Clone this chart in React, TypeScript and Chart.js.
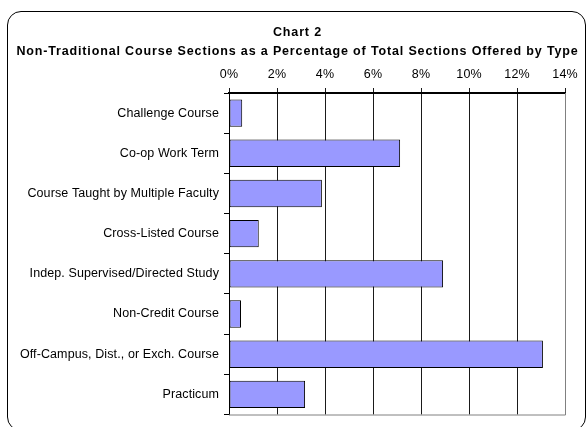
import React, { useEffect, useRef } from "react";
import { Chart, registerables } from "chart.js";

Chart.register(...registerables);

const titleLines = [
  "Chart 2",
  "Non-Traditional Course Sections as a Percentage of Total Sections Offered by Type",
];

const categories = [
  "Challenge Course",
  "Co-op Work Term",
  "Course Taught by Multiple Faculty",
  "Cross-Listed Course",
  "Indep. Supervised/Directed Study",
  "Non-Credit Course",
  "Off-Campus, Dist., or Exch. Course",
  "Practicum",
];

const percentValues = [0.55, 7.13, 3.87, 1.24, 8.92, 0.5, 13.08, 3.17];

const axisMin = 0;
const axisMax = 14;
const axisStep = 2;

const FONT = "'Liberation Sans', Arial, sans-serif";

const titlePlugin = {
  id: "customTitle",
  afterDraw(chart: any) {
    const ctx = chart.ctx;
    ctx.save();
    ctx.fillStyle = "#000";
    ctx.font = `bold 12.5px ${FONT}`;
    ctx.textAlign = "center";
    ctx.textBaseline = "alphabetic";
    (ctx as any).letterSpacing = "0.85px";
    ctx.fillText(titleLines[0], 297.5, 36);
    ctx.fillText(titleLines[1], 297.5, 55);
    ctx.restore();
  },
};

const framePlugin = {
  id: "frame",
  beforeDatasetsDraw(chart: any) {
    const { ctx, chartArea } = chart;
    ctx.save();
    ctx.strokeStyle = "#808080";
    ctx.lineWidth = 1;
    ctx.beginPath();
    ctx.moveTo(chartArea.right + 0.5, chartArea.top);
    ctx.lineTo(chartArea.right + 0.5, chartArea.bottom + 0.5);
    ctx.lineTo(chartArea.left, chartArea.bottom + 0.5);
    ctx.stroke();
    ctx.restore();
  },
};

const spacingPlugin = {
  id: "spacing",
  beforeDraw(chart: any) {
    (chart.ctx as any).letterSpacing = "0.1px";
  },
};

export default function App() {
  const canvasRef = useRef<HTMLCanvasElement | null>(null);

  useEffect(() => {
    if (!canvasRef.current) return;
    const chart = new Chart(canvasRef.current, {
      type: "bar",
      data: {
        labels: categories,
        datasets: [
          {
            data: percentValues,
            backgroundColor: "#9999FF",
            borderColor: "#000000",
            borderWidth: 1,
            borderSkipped: false,
            barPercentage: 0.68,
            categoryPercentage: 1,
          },
        ],
      },
      options: {
        indexAxis: "y",
        animation: false,
        responsive: false,
        maintainAspectRatio: false,
        layout: { padding: { left: 0, right: 22, top: 0, bottom: 5 } },
        plugins: {
          legend: { display: false },
          title: { display: false },
          tooltip: { enabled: false },
        },
        scales: {
          x: {
            position: "top",
            min: axisMin,
            max: axisMax,
            afterFit(scale: any) {
              scale.height = 93;
            },
            ticks: {
              stepSize: axisStep,
              color: "#000",
              font: { family: FONT, size: 12.5 },
              padding: 6,
              callback: (v: any) => `${v}%`,
            },
            grid: {
              color: "#1a1a1a",
              lineWidth: 1,
              tickLength: 5,
              drawTicks: true,
            },
            border: { display: true, color: "#000", width: 2 },
          },
          y: {
            afterFit(scale: any) {
              scale.width = 229;
            },
            ticks: {
              color: "#000",
              font: { family: FONT, size: 12.5 },
              padding: 5,
            },
            grid: {
              drawOnChartArea: false,
              drawTicks: true,
              tickLength: 5,
              color: "#000",
              offset: true,
            },
            border: { display: true, color: "#000", width: 1 },
          },
        },
      },
      plugins: [spacingPlugin, titlePlugin, framePlugin],
    });
    return () => chart.destroy();
  }, []);

  return (
    <div
      style={{
        position: "fixed",
        left: 0,
        top: 0,
        width: 587,
        height: 427,
        overflow: "hidden",
        background: "#fff",
      }}
    >
      <canvas
        ref={canvasRef}
        width={587}
        height={427}
        style={{ position: "absolute", left: 0, top: 0, width: 587, height: 427 }}
      />
      <div
        style={{
          position: "absolute",
          left: 7,
          top: 11,
          width: 577,
          height: 418,
          border: "1.5px solid #000",
          borderRadius: 14,
          pointerEvents: "none",
        }}
      />
    </div>
  );
}
